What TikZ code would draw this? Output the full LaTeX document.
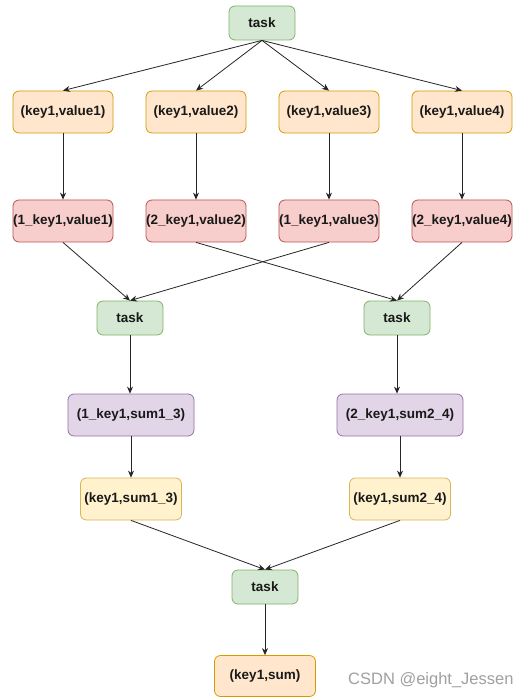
\documentclass[tikz,border=0pt]{standalone}
\usepackage{fontspec}
\setmainfont{Liberation Sans}
\usetikzlibrary{arrows.meta}
\definecolor{gfill}{HTML}{D5E8D4}\definecolor{gline}{HTML}{82B366}
\definecolor{ofill}{HTML}{FFE6CC}\definecolor{oline}{HTML}{D79B00}
\definecolor{rfill}{HTML}{F8CECC}\definecolor{rline}{HTML}{B85450}
\definecolor{pfill}{HTML}{E1D5E7}\definecolor{pline}{HTML}{9673A6}
\definecolor{yfill}{HTML}{FFF2CC}\definecolor{yline}{HTML}{D6B656}
\definecolor{wm}{HTML}{A0A0A0}
\tikzset{
  box/.style={draw, rounded corners=6pt, line width=0.8pt, inner sep=0pt,
    font=\fontsize{13.5}{15}\selectfont\bfseries, text=black!90},
  taskbox/.style={box, fill=gfill, draw=gline, minimum width=66pt, minimum height=34pt},
  obox/.style={box, fill=ofill, draw=oline, minimum width=100pt, minimum height=42pt},
  rbox/.style={box, fill=rfill, draw=rline, minimum width=100pt, minimum height=42pt},
  pbox/.style={box, fill=pfill, draw=pline, minimum width=126pt, minimum height=42pt},
  ybox/.style={box, fill=yfill, draw=yline, minimum width=101pt, minimum height=42pt},
  conn/.style={draw=black!85, line width=0.8pt, -{Stealth[length=7pt,width=6pt]}}
}
\begin{document}
\begin{tikzpicture}[x=1pt,y=-1pt]
\useasboundingbox[fill=white] (0,0) rectangle (529,700);
\node[taskbox] (t0) at (262,23) {task};
\node[obox] (a1) at (63,112) {(key1,value1)};
\node[obox] (a2) at (196,112) {(key1,value2)};
\node[obox] (a3) at (329,112) {(key1,value3)};
\node[obox] (a4) at (462,112) {(key1,value4)};
\node[rbox] (b1) at (63,221) {(1\_key1,value1)};
\node[rbox] (b2) at (196,221) {(2\_key1,value2)};
\node[rbox] (b3) at (329,221) {(1\_key1,value3)};
\node[rbox] (b4) at (462,221) {(2\_key1,value4)};
\node[taskbox] (t1) at (130,318) {task};
\node[taskbox] (t2) at (397,318) {task};
\node[pbox] (p1) at (131,415) {(1\_key1,sum1\_3)};
\node[pbox] (p2) at (400,415) {(2\_key1,sum2\_4)};
\node[ybox] (y1) at (131,499) {(key1,sum1\_3)};
\node[ybox] (y2) at (400,499) {(key1,sum2\_4)};
\node[taskbox] (t3) at (265,587) {task};
\node[obox, minimum width=101pt, minimum height=41pt] (f) at (265,676) {(key1,sum)};
\node[font=\fontsize{16.5}{18}\selectfont, text=wm, anchor=west, inner sep=0pt] (wmk) at (348,680) {CSDN @eight\_Jessen};
\foreach \n in {a1,a2,a3,a4} \draw[conn] (t0.south) -- (\n.north);
\foreach \n in {1,2,3,4} \draw[conn] (a\n.south) -- (b\n.north);
\draw[conn] (b1.south) -- (t1.north);
\draw[conn] (b3.south) -- (t1.north);
\draw[conn] (b2.south) -- (t2.north);
\draw[conn] (b4.south) -- (t2.north);
\draw[conn] (t1.south) -- (t1.south |- p1.north);
\draw[conn] (t2.south) -- (t2.south |- p2.north);
\draw[conn] (p1.south) -- (y1.north);
\draw[conn] (p2.south) -- (y2.north);
\draw[conn] (y1.south) -- (t3.north);
\draw[conn] (y2.south) -- (t3.north);
\draw[conn] (t3.south) -- (f.north);
\end{tikzpicture}
\end{document}
